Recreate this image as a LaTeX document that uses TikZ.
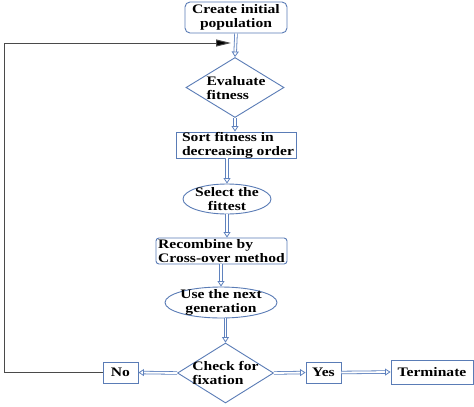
\documentclass[tikz,border=0pt]{standalone}
\usepackage{fontspec}
\setmainfont{Liberation Serif}[FakeStretch=1.2]
\usetikzlibrary{shapes.geometric,arrows.meta}
\definecolor{boxc}{HTML}{5A7CB6}
\definecolor{arrc}{HTML}{5F82BE}
\definecolor{fbc}{HTML}{4A4A4A}
\tikzset{
  txt/.style={font=\bfseries\fontsize{13}{14}\selectfont, inner sep=0pt},
  rbox/.style={draw=boxc, line width=0.9pt, rounded corners=5pt, inner sep=0pt},
  sbox/.style={draw=boxc, line width=0.9pt, inner sep=0pt},
  ell/.style={draw=boxc, line width=0.9pt, ellipse, inner sep=0pt},
  dia/.style={draw=boxc, line width=0.9pt, diamond, inner sep=0pt},
  dbl/.style={draw=arrc, line width=0.8pt, double=white, double distance=1.8pt, -{Triangle[open, length=5.5pt, width=7pt, line width=0.8pt]}},
  fb/.style={draw=fbc, line width=1pt, -{Triangle[length=15pt, width=7pt, fill=black]}}
}
\begin{document}
\begin{tikzpicture}[x=1pt,y=-1pt]
\path[fill=white] (0,0) rectangle (474,407);
\useasboundingbox (0,0) rectangle (474,407);
% nodes
\node[rbox, minimum width=102pt, minimum height=31pt] (create) at (236,17.5) {};
\node[txt, align=center] (createt) at (create) {Create initial\\population};
\node[dia, minimum width=98pt, minimum height=60pt] (eval) at (235,87.5) {};
\node[txt, align=left] (evalt) at (236,88) {Evaluate\\fitness};
\node[sbox, minimum width=120pt, minimum height=26pt] (sort) at (236,145) {};
\node[txt, align=left] (sortt) at (238,145) {Sort fitness in\\decreasing order};
\node[ell, minimum width=88pt, minimum height=30pt] (select) at (227,199) {};
\node[txt, align=center] (selectt) at (select) {Select the\\fittest};
\node[rbox, rounded corners=3pt, minimum width=131pt, minimum height=26pt] (recomb) at (221.5,251) {};
\node[txt, align=left] (recombt) at (recomb) {Recombine by\\Cross-over method};
\node[ell, minimum width=112pt, minimum height=31pt] (use) at (221,302.5) {};
\node[txt, align=center] (uset) at (use) {Use the next\\ generation};
\node[dia, minimum width=96pt, minimum height=60pt] (check) at (225.5,373) {};
\node[txt, align=left] (checkt) at (225.5,373) {Check for\\fixation};
\node[sbox, minimum width=35pt, minimum height=21pt] (no) at (120.5,372.5) {};
\node[txt] (not) at (no) {No};
\node[sbox, minimum width=35pt, minimum height=21pt] (yes) at (323.5,372.5) {};
\node[txt] (yest) at (yes) {Yes};
\node[sbox, minimum width=82pt, minimum height=24pt] (term) at (432,372) {};
\node[txt] (termt) at (term) {Terminate};
% connectors
\draw[dbl] (create.south) -- (eval.north);
\draw[dbl] (eval.south) -- (sort.north -| eval.south);
\draw[dbl] (select.north |- sort.south) -- (select.north);
\draw[dbl] (select.south) -- (select.south |- recomb.north);
\draw[dbl] (use.north |- recomb.south) -- (use.north);
\draw[dbl] (check.north |- use.south) -- (check.north);
\draw[dbl] (check.west) -- (no.east);
\draw[dbl] (check.east) -- (yes.west);
\draw[dbl] (yes.east) -- (term.west);
\coordinate (fbend) at (231,43);
\draw[fb] (no.west) -- ++(-98,0) |- (fbend);
\end{tikzpicture}
\end{document}
